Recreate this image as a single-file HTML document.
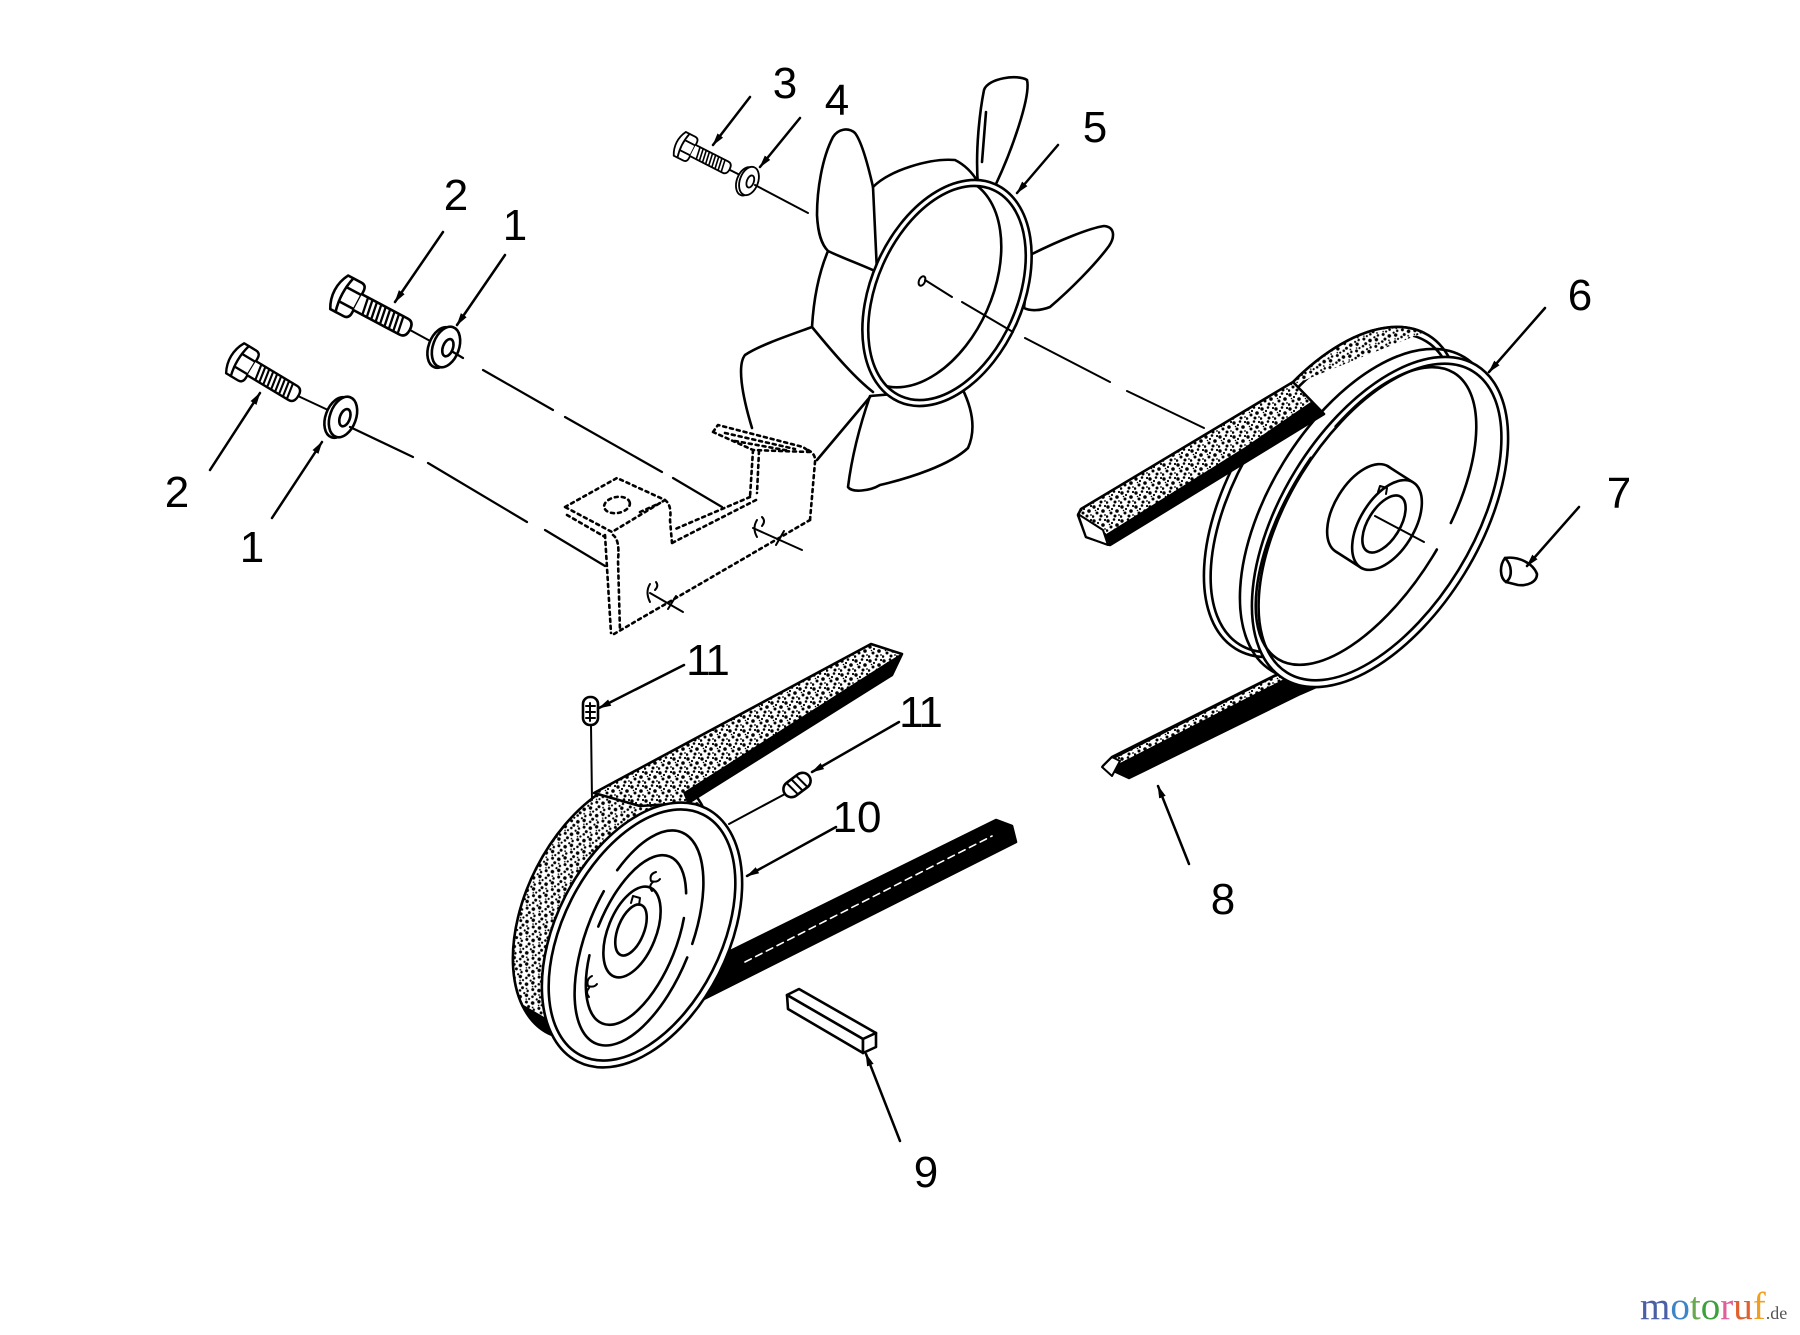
<!DOCTYPE html>
<html><head><meta charset="utf-8"><style>
html,body{margin:0;padding:0;background:#fff;}
svg{display:block;}
</style></head><body>
<svg width="1800" height="1335" viewBox="0 0 1800 1335" xmlns="http://www.w3.org/2000/svg">
<defs>
<pattern id="sp" width="14" height="14" patternUnits="userSpaceOnUse">
<rect width="14" height="14" fill="#fff"/>
<circle cx="2" cy="3" r="1.7"/><circle cx="8" cy="1.5" r="1.3"/><circle cx="11" cy="7" r="1.8"/><circle cx="5" cy="9" r="1.5"/><circle cx="1" cy="12.5" r="1.3"/><circle cx="9" cy="12" r="1.5"/><circle cx="13" cy="2" r="1.1"/><circle cx="6" cy="5" r="1.1"/><circle cx="13" cy="11" r="0.9"/><circle cx="3.5" cy="6.5" r="0.8"/>
</pattern>
<marker id="ah" markerWidth="13" markerHeight="8" refX="12" refY="4" orient="auto" markerUnits="userSpaceOnUse"><path d="M0,0.5 L13,4 L0,7.5 Z" fill="#000"/></marker>
<clipPath id="fanIn"><ellipse cx="947" cy="293" rx="69" ry="112" transform="rotate(24 947 293)"/></clipPath>
<clipPath id="b6top"><polygon points="1200,422 1520,294 1520,200 1200,200"/></clipPath>
<clipPath id="b10c"><ellipse cx="613" cy="907" rx="86" ry="142" transform="rotate(27 613 907)"/></clipPath>
<g id="bolt">
<path d="M-10,-19 L5,-19 Q11,-19 11,-12 L11,12 Q11,19 5,19 L-10,19 Q-15,10 -15,0 Q-15,-10 -10,-19 Z" fill="#fff"/>
<path d="M-4,-19 Q-9,0 -4,19" fill="none"/>
<path d="M-6,-8 L11,-8 M-6,8 L11,8" fill="none"/>
<path d="M11,-9 L63,-9 Q70,-9 70,0 Q70,9 63,9 L11,9" fill="#fff"/>
<path d="M18,-9 L21,9 M23,-9 L26,9 M28,-9 L31,9 M33,-9 L36,9 M38,-9 L41,9 M43,-9 L46,9 M48,-9 L51,9 M53,-9 L56,9 M58,-9 L61,9" fill="none" stroke-width="2.3"/>
</g>
<g id="washer">
<ellipse cx="-4" cy="2" rx="13" ry="21" fill="#fff"/>
<ellipse cx="0" cy="0" rx="13" ry="21" fill="#fff"/>
<ellipse cx="2" cy="0" rx="5" ry="9" fill="#fff"/>
</g>
</defs>
<rect width="1800" height="1335" fill="#fff"/>

<g fill="none" stroke="#000" stroke-width="2.6" stroke-linecap="round" stroke-linejoin="round">

<!-- ============ FAN ============ -->
<g fill="#fff">
<path d="M978,186 C975,150 980,110 984,90 C988,78 1018,74 1027,80 C1031,96 1012,150 996,184 Z"/>
<path d="M877,272 L873,187 C868,165 862,142 855,133 C848,127 838,129 833,137 C822,158 817,190 817,215 C818,235 822,245 828,251 C845,259 862,265 877,272 Z"/>
<path d="M1030,255 C1060,240 1090,228 1104,226 C1115,227 1115,237 1109,246 C1095,265 1070,290 1050,307 C1040,311 1030,311 1024,308 Z"/>
<path d="M870,396 C860,425 852,455 848,487 C852,493 870,491 880,485 C910,478 950,465 968,448 C976,430 973,410 962,388 Z"/>
</g>
<path d="M986,112 L982,162"/>
<path d="M873,187 C890,170 930,158 955,160 C965,165 972,172 978,182"/>
<path d="M828,251 C820,270 814,293 812,327"/>
<path d="M812,327 C790,335 760,345 745,355 C737,365 742,395 752,428"/>
<path d="M812,327 C835,355 855,378 873,392"/>
<path d="M817,460 L870,397"/>
<ellipse cx="947" cy="293" rx="76" ry="119" transform="rotate(24 947 293)" fill="#fff"/>
<ellipse cx="947" cy="293" rx="70" ry="113" transform="rotate(24 947 293)"/>
<g clip-path="url(#fanIn)"><ellipse cx="923" cy="282" rx="70" ry="111" transform="rotate(24 923 282)"/></g>
<ellipse cx="922" cy="281" rx="3" ry="5" transform="rotate(24 922 281)" stroke-width="2"/>
<path d="M925,280 L952,297 M962,302 L1013,332 M1025,338 L1110,382 M1127,391 L1204,428" stroke-width="2"/>

<!-- ============ BOLT 3 / WASHER 4 ============ -->
<use href="#bolt" transform="translate(686,147) rotate(27) scale(0.7)"/>
<path d="M730,170 L742,176" stroke-width="2"/>
<use href="#washer" transform="translate(749,181) rotate(20) scale(0.7)"/>
<path d="M755,185 L808,213" stroke-width="2"/>

<!-- ============ BOLTS 2 / WASHERS 1 ============ -->
<use href="#bolt" transform="translate(348,297) rotate(28)"/>
<path d="M410,330 L432,342" stroke-width="2"/>
<use href="#washer" transform="translate(446,347) rotate(20)"/>
<use href="#bolt" transform="translate(243,363) rotate(31) scale(0.92)"/>
<path d="M298,396 L328,410" stroke-width="2"/>
<use href="#washer" transform="translate(343,417) rotate(20)"/>

<path d="M453,352 L463,358 M483,370 L553,410 M565,417 L662,472 M673,478 L722,507" stroke-width="2.2"/>
<path d="M350,427 L413,457 M428,463 L527,522 M545,530 L605,566" stroke-width="2.2"/>

<!-- ============ BRACKET ============ -->
<g stroke-dasharray="3 4" stroke-width="2.6">
<path d="M565,507 L617,478 L665,500 L612,532 Z"/>
<path d="M567,515 L605,537"/>
<ellipse cx="617" cy="505" rx="13" ry="8" transform="rotate(-10 617 505)"/>
<path d="M605,535 L611,633"/>
<path d="M613,535 Q620,540 618,560 L620,631"/>
<path d="M614,634 L810,520"/>
<path d="M810,520 L815,462 Q816,454 808,450"/>
<path d="M713,432 L718,425 L803,447 L810,452 L753,450 Z"/>
<path d="M725,433 L795,449 M735,441 L790,451"/>
<path d="M753,450 L750,497"/>
<path d="M759,451 L757,493"/>
<path d="M750,497 L673,530"/>
<path d="M756,500 L672,543"/>
<path d="M665,500 Q672,505 670,520 L672,543"/>
<path d="M640,512 L660,503"/>
</g>
<path d="M757,520 Q752,528 757,537 M762,517 Q766,521 762,526" stroke-width="2"/>
<path d="M650,584 Q645,592 650,602 M656,582 Q659,586 655,590" stroke-width="2"/>
<path d="M753,528 L802,550 M776,545 L784,531" stroke-width="2"/>
<path d="M650,593 L683,612 M668,609 L676,596" stroke-width="2"/>

<!-- ============ PULLEY 6 ============ -->
<ellipse cx="1332" cy="492" rx="99" ry="184" transform="rotate(31.6 1332 492)" fill="#fff"/>
<ellipse cx="1333" cy="493" rx="93" ry="178" transform="rotate(31.6 1333 493)"/>
<ellipse cx="1368" cy="514" rx="99" ry="184" transform="rotate(31.6 1368 514)"/>
<g clip-path="url(#b6top)"><ellipse cx="1332" cy="492" rx="99" ry="184" transform="rotate(31.6 1332 492)" fill="url(#sp)"/></g>
<path d="M1293,382 L1081,509 L1078,515 L1086,537 L1110,545 L1324,414 Z" fill="url(#sp)"/>
<path d="M1110,545 L1324,414 L1312,402 L1245,448 L1106,535 Z" fill="#000" stroke-width="1.5"/>
<path d="M1078,514 L1086,537 L1108,545 L1103,530 Z" fill="#fff" stroke-width="2"/>
<path d="M1103,766 L1112,757 L1286,670 L1332,680 L1300,694 L1129,778 Z" fill="#000"/>
<path d="M1114,759 L1283,673 L1286,678 L1118,764 Z" fill="url(#sp)" stroke="none"/>
<path d="M1102,767 L1112,757 L1120,761 L1112,776 Z" fill="#fff" stroke-width="2"/>
<ellipse cx="1380" cy="522" rx="99" ry="184" transform="rotate(31.6 1380 522)" fill="#fff"/>
<ellipse cx="1380" cy="522" rx="92" ry="177" transform="rotate(31.6 1380 522)"/>
<ellipse cx="1366" cy="516" rx="78" ry="168" transform="rotate(31.6 1366 516)" stroke-dasharray="420 40 300 30"/>
<ellipse cx="1362" cy="509" rx="27" ry="50" transform="rotate(31.6 1362 509)" fill="#fff"/>
<polygon points="1387.3,465.9 1412.3,481.9 1361.7,568.1 1336.7,552.1" fill="#fff" stroke="none"/>
<path d="M1387.3,465.9 L1412.3,481.9 M1336.7,552.1 L1361.7,568.1"/>
<ellipse cx="1387" cy="525" rx="27" ry="50" transform="rotate(31.6 1387 525)" fill="#fff"/>
<ellipse cx="1384" cy="524" rx="16" ry="32" transform="rotate(31.6 1384 524)"/>
<path d="M1378,492 L1380,486 L1387,488 L1386,494" stroke-width="2"/>
<path d="M1375,516 L1424,542" stroke-width="2"/>
<path d="M1505,558 C1518,556 1533,563 1537,574 C1537,582 1528,586 1518,585 L1506,582 C1500,578 1499,566 1505,558 Z" fill="#fff"/>
<path d="M1505,558 C1512,565 1513,577 1506,582"/>

<!-- ============ PULLEY 10 ============ -->
<ellipse cx="613" cy="907" rx="86" ry="142" transform="rotate(27 613 907)" fill="url(#sp)"/>
<g clip-path="url(#b10c)"><polygon points="470,975 700,1110 470,1110" fill="#000"/></g>
<path d="M594,793 L871,644 L902,654 L892,675 L688,803 L640,806 Z" fill="url(#sp)"/>
<path d="M902,654 L892,675 L688,803 L684,793 L886,664 Z" fill="#000" stroke-width="1.5"/>
<path d="M700,966 L996,820 L1012,826 L1016,842 L690,1006 Z" fill="#000"/>
<path d="M745,962 L992,836" stroke="#fff" stroke-width="1.6" stroke-dasharray="7 5"/>
<ellipse cx="642" cy="935" rx="86" ry="142" transform="rotate(27 642 935)" fill="#fff"/>
<ellipse cx="642" cy="935" rx="79" ry="135" transform="rotate(27 642 935)"/>
<ellipse cx="639" cy="938" rx="52" ry="114" transform="rotate(22 639 938)" stroke-dasharray="300 25 200 20"/>
<ellipse cx="636" cy="940" rx="40" ry="90" transform="rotate(22 636 940)" stroke-dasharray="180 30 150 25"/>
<ellipse cx="632" cy="932" rx="24" ry="48" transform="rotate(22 632 932)"/>
<ellipse cx="631" cy="930" rx="13" ry="27" transform="rotate(22 631 930)"/>
<path d="M631,903 L633,896 L640,898 L639,905" stroke-width="2"/>
<path d="M656,872 q-7,2 -5,9 q6,2 9,-2 M653,882 q-5,4 -1,9" stroke-width="2"/>
<path d="M592,976 q-6,3 -4,10 q6,2 9,-2 M589,988 q-4,4 0,9" stroke-width="2"/>
<rect x="583" y="697" width="15" height="28" rx="7" fill="#fff"/>
<path d="M586,706 L595,706 M586,712 L595,712 M586,718 L595,718 M590,703 L590,721" stroke-width="2"/>
<path d="M591,725 L592,800" stroke-width="2"/>
<g transform="translate(797,785) rotate(-37)">
<rect x="-15" y="-8" width="30" height="16" rx="8" fill="#fff"/>
<path d="M-7,-7 L-5,7 M-1,-7 L1,7 M5,-7 L7,7" stroke-width="2"/>
</g>
<path d="M785,794 L729,824" stroke-width="2"/>
<path d="M787,995 L799,989 L876,1033 L863,1039 Z" fill="#fff"/>
<path d="M787,995 L863,1039 L863,1053 L788,1009 Z" fill="#fff"/>
<path d="M863,1039 L876,1033 L876,1047 L863,1053 Z" fill="#fff"/>

<!-- ============ LEADERS ============ -->
<g stroke-width="2.5" marker-end="url(#ah)">
<line x1="750" y1="97" x2="713" y2="145"/>
<line x1="800" y1="118" x2="760" y2="167"/>
<line x1="1058" y1="145" x2="1017" y2="193"/>
<line x1="443" y1="232" x2="395" y2="302"/>
<line x1="505" y1="255" x2="457" y2="325"/>
<line x1="210" y1="470" x2="260" y2="393"/>
<line x1="272" y1="518" x2="322" y2="442"/>
<line x1="1545" y1="308" x2="1489" y2="372"/>
<line x1="1579" y1="507" x2="1527" y2="566"/>
<line x1="684" y1="665" x2="599" y2="708"/>
<line x1="899" y1="722" x2="812" y2="772"/>
<line x1="836" y1="827" x2="747" y2="876"/>
<line x1="1189" y1="864" x2="1158" y2="786"/>
<line x1="900" y1="1141" x2="866" y2="1054"/>
</g>
</g>

<!-- ============ LABELS ============ -->
<g font-family="'Liberation Sans', Arial, sans-serif" font-size="44" fill="#000" text-anchor="middle">
<text x="785" y="98">3</text>
<text x="837" y="115">4</text>
<text x="1095" y="142">5</text>
<text x="456" y="210">2</text>
<text x="515" y="240">1</text>
<text x="177" y="507">2</text>
<text x="252" y="562">1</text>
<text x="1580" y="310">6</text>
<text x="1619" y="508">7</text>
<text x="707" y="675" letter-spacing="-2">11</text>
<text x="920" y="727" letter-spacing="-2">11</text>
<text x="857" y="832">10</text>
<text x="1223" y="914">8</text>
<text x="926" y="1187">9</text>
</g>

<text x="1640" y="1319" font-family="'Liberation Serif', 'Times New Roman', serif" font-size="39"><tspan fill="#4b5fa6">m</tspan><tspan fill="#3d85c6">o</tspan><tspan fill="#6aa84f">t</tspan><tspan fill="#3da03d">o</tspan><tspan fill="#e0609a">r</tspan><tspan fill="#e06030">u</tspan><tspan fill="#f0a020">f</tspan><tspan fill="#555" font-size="18">.de</tspan></text>
</svg>
</body></html>
